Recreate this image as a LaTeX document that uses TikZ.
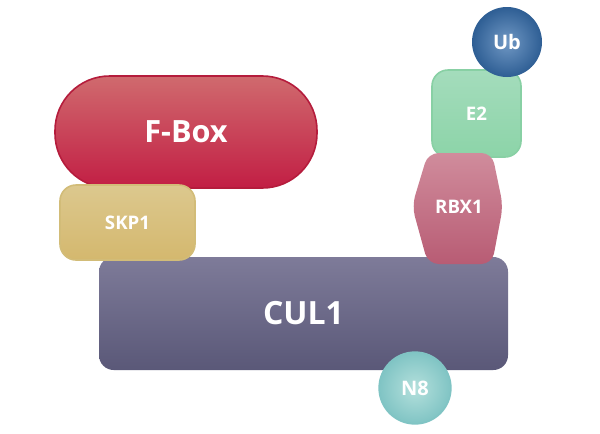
\documentclass[tikz,border=0pt]{standalone}
\usepackage{fontspec}
\setmainfont{Open Sans}
\definecolor{culT}{HTML}{7E7B99}
\definecolor{culB}{HTML}{5A5878}
\definecolor{fbT}{HTML}{D06A6E}
\definecolor{fbB}{HTML}{C21E44}
\definecolor{fbD}{HTML}{B51C3C}
\definecolor{skT}{HTML}{DCC88E}
\definecolor{skB}{HTML}{D4B86E}
\definecolor{skD}{HTML}{D2BC78}
\definecolor{rbT}{HTML}{D08C9C}
\definecolor{rbB}{HTML}{B85C74}
\definecolor{e2T}{HTML}{A4DCBC}
\definecolor{e2B}{HTML}{8CD4A8}
\definecolor{e2D}{HTML}{88D0A4}
\definecolor{ubI}{HTML}{7098C4}
\definecolor{ubO}{HTML}{2E5E94}
\definecolor{n8I}{HTML}{B4E0DC}
\definecolor{n8O}{HTML}{80C4C4}
\begin{document}
\begin{tikzpicture}[x=0.75pt,y=-0.75pt,
  lbl/.style={text=white,font=\bfseries},
  box/.style={line width=1.2pt,rectangle,inner sep=0pt}]
\useasboundingbox[fill=white] (0,0) rectangle (600,433);
\node[box,top color=culT,bottom color=culB,minimum width=306.75pt,minimum height=84.75pt,rounded corners=11pt,lbl,font=\fontsize{24}{28}\bfseries\selectfont] (cul) at (303.5,313.5) {CUL1};
\node[box,draw=fbD,top color=fbT,bottom color=fbB,minimum width=196.5pt,minimum height=84pt,rounded corners=41pt,lbl,font=\fontsize{23}{26}\bfseries\selectfont] (fbox) at (186,132) {F-Box};
\node[box,draw=skD,top color=skT,bottom color=skB,minimum width=101.25pt,minimum height=56.25pt,rounded corners=12pt,lbl,font=\fontsize{14}{16}\bfseries\selectfont] (skp) at (127.5,222.5) {SKP1};
\node[box,draw=e2D,top color=e2T,bottom color=e2B,minimum width=66.75pt,minimum height=65.25pt,rounded corners=12pt,lbl,font=\fontsize{14}{16}\bfseries\selectfont] (e2) at (476.5,113.5) {E2};
\path[top color=rbT,bottom color=rbB,rounded corners=8pt] (428,153) -- (492,153) -- (503,206) -- (492,264) -- (428,264) -- (412,206) -- cycle;
\node[lbl,font=\fontsize{14}{16}\bfseries\selectfont] (rbx) at (459,207) {RBX1};
\node[circle,inner sep=0pt,minimum size=52.5pt,inner color=ubI,outer color=ubO,lbl,font=\fontsize{15}{18}\bfseries\selectfont] (ub) at (507,42) {Ub};
\node[circle,inner sep=0pt,minimum size=54pt,draw=n8O,line width=1pt,inner color=n8I,outer color=n8O,lbl,font=\fontsize{15}{18}\bfseries\selectfont] (n8) at (415,388) {N8};
\end{tikzpicture}
\end{document}
